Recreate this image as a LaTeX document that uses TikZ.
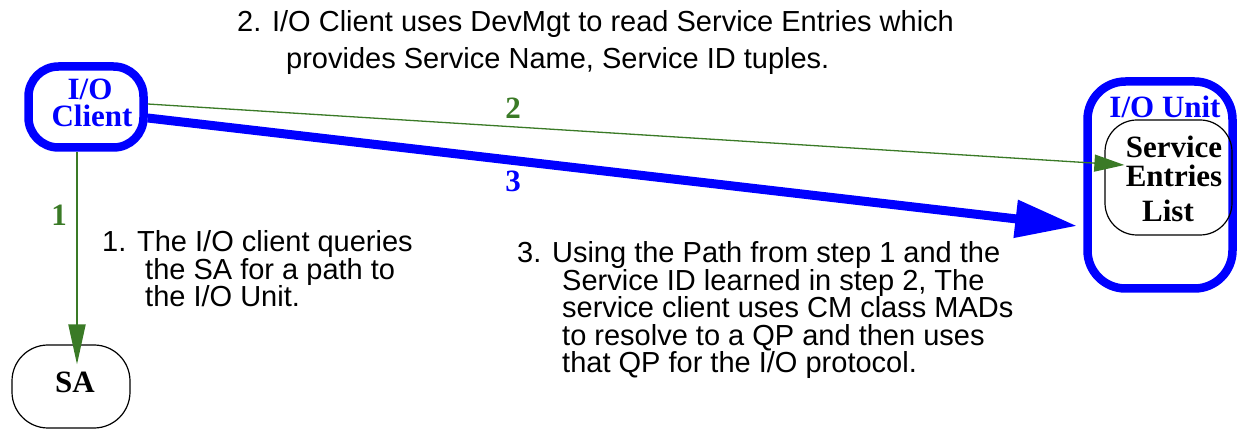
\documentclass[tikz,border=0pt]{standalone}
\usepackage{fontspec}
\setmainfont{Liberation Serif}
\setsansfont{Liberation Sans}
\usetikzlibrary{arrows.meta}
\definecolor{ggreen}{RGB}{58,122,38}
\begin{document}
\begin{tikzpicture}[x=1pt,y=-1pt,
  lab/.style={font=\fontsize{31}{31}\selectfont\bfseries, inner sep=0pt, anchor=base},
  note/.style={font=\sffamily\fontsize{29}{28}\selectfont, inner sep=0pt, anchor=base west},
  bluebox/.style={draw=blue, line width=8.5pt, rounded corners=30pt, rectangle, inner sep=0pt},
  thinbox/.style={draw=black, line width=1.2pt, rounded corners=32pt, rectangle, inner sep=0pt},
]
\useasboundingbox (0,0) rectangle (1243,430);

% boxes
\node[bluebox, minimum width=115pt, minimum height=81pt] (client) at (86,107) {};
\node[bluebox, minimum width=145pt, minimum height=207pt, rounded corners=38pt] (unit) at (1160,185) {};
\node[thinbox, minimum width=127pt, minimum height=115pt] (entries) at (1168.5,177.5) {};
\node[thinbox, minimum width=118pt, minimum height=83pt, rounded corners=36pt] (sa) at (71,386.5) {};

% box texts
\node[lab, text=blue] (clientA) at (90,100) {I/O};
\node[lab, text=blue] (clientB) at (92,127) {Client};
\node[lab, text=blue] (unitT) at (1165,118) {I/O Unit};
\node[lab] (entA) at (1174,158) {Service};
\node[lab] (entB) at (1174,187) {Entries};
\node[lab] (entC) at (1168,222) {List};
\node[lab] (saT) at (75,392) {SA};

% connectors
\draw[ggreen, line width=2pt, -{Triangle[length=40pt,width=17pt]}]
  ([xshift=-9pt]client.south) -- ([xshift=6pt,yshift=-20pt]sa.north);
\draw[ggreen, line width=1.3pt, -{Triangle[length=30pt,width=17pt]}]
  ([yshift=3pt]client.east) -- ([xshift=20pt,yshift=12.5pt]entries.west);
\draw[blue, line width=9pt, -{Triangle[length=62pt,width=36pt]}]
  ([yshift=-11pt]client.east) -- ([xshift=-6pt,yshift=-41pt]unit.west);

% step labels
\node[lab, text=ggreen] (n1) at (59,226) {1};
\node[lab, text=ggreen] (n2) at (513,119) {2};
\node[lab, text=blue] (n3) at (513,192) {3};

% notes
\node[note] (t2a) at (237,32) {2. I/O Client uses DevMgt to read Service Entries which};
\node[note] (t2b) at (286,69) {provides Service Name, Service ID tuples.};
\node[note] (t1a) at (102,252) {1. The I/O client queries};
\node[note] (t1b) at (145,280) {the SA for a path to};
\node[note] (t1c) at (145,307) {the I/O Unit.};
\node[note] (t3a) at (517,263) {3. Using the Path from step 1 and the};
\node[note] (t3b) at (562,291) {Service ID learned in step 2, The};
\node[note] (t3c) at (562,318) {service client uses CM class MADs};
\node[note] (t3d) at (562,346) {to resolve to a QP and then uses};
\node[note] (t3e) at (562,373) {that QP for the I/O protocol.};
\end{tikzpicture}
\end{document}
